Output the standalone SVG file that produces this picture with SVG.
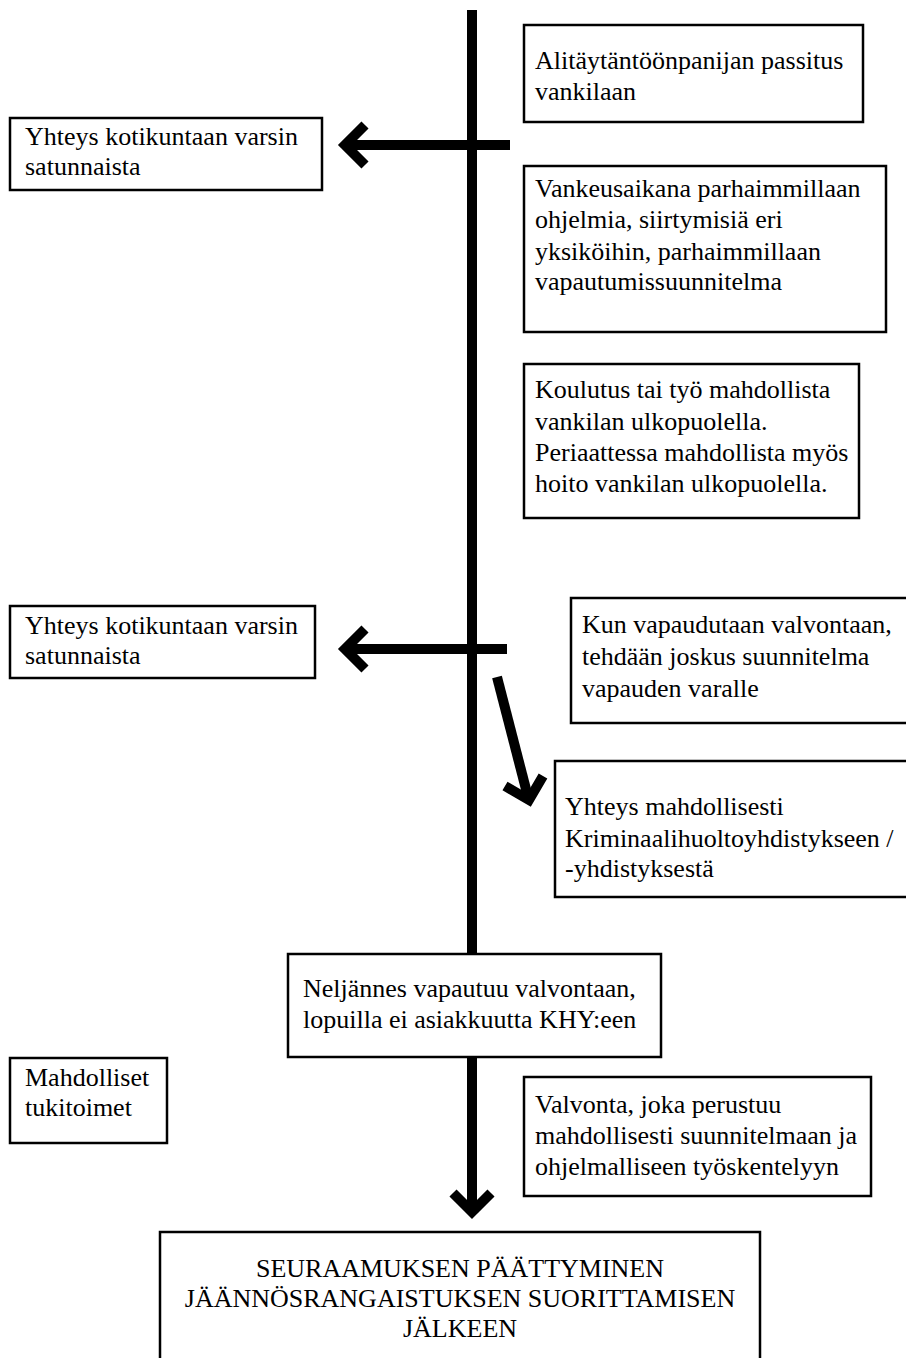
<svg xmlns="http://www.w3.org/2000/svg" width="906" height="1358" viewBox="0 0 906 1358">
<style>
.box{fill:#fff;stroke:#000;stroke-width:2.5}
.t{font-size:26px;fill:#000}
.c{text-anchor:middle}
.ln{fill:none;stroke:#000;stroke-width:10;stroke-linecap:butt}
.hd{fill:none;stroke:#000;stroke-width:10;stroke-linejoin:miter;stroke-miterlimit:10;stroke-linecap:butt}
</style>
<g id="connectors">
<line class="ln" x1="472" y1="10" x2="472" y2="1212"/>
<polyline class="hd" points="453,1193 472,1212 491,1193"/>
<line class="ln" x1="510" y1="145" x2="345" y2="145"/>
<polyline class="hd" points="365,125 345,145 365,165"/>
<line class="ln" x1="507" y1="649" x2="345" y2="649"/>
<polyline class="hd" points="365,629 345,649 365,669"/>
<line class="ln" x1="497" y1="677" x2="528" y2="797"/>
<polyline class="hd" points="543,776 529,800 505,786"/>
</g>
<g font-family="'Liberation Serif', Tinos, 'Times New Roman', 'DejaVu Serif', serif">
<g id="n1"><rect class="box" x="524" y="25" width="339" height="97"/>
<text class="t" x="535" y="69">Alitäytäntöönpanijan passitus</text>
<text class="t" x="535" y="100">vankilaan</text></g>
<g id="n2"><rect class="box" x="10" y="118" width="312" height="72"/>
<text class="t" x="25" y="145">Yhteys kotikuntaan varsin</text>
<text class="t" x="25" y="175">satunnaista</text></g>
<g id="n3"><rect class="box" x="524" y="166" width="362" height="166"/>
<text class="t" x="535" y="197">Vankeusaikana parhaimmillaan</text>
<text class="t" x="535" y="228">ohjelmia, siirtymisiä eri</text>
<text class="t" x="535" y="260">yksiköihin, parhaimmillaan</text>
<text class="t" x="535" y="290">vapautumissuunnitelma</text></g>
<g id="n4"><rect class="box" x="524" y="364" width="335" height="154"/>
<text class="t" x="535" y="398">Koulutus tai työ mahdollista</text>
<text class="t" x="535" y="430">vankilan ulkopuolella.</text>
<text class="t" x="535" y="461">Periaattessa mahdollista myös</text>
<text class="t" x="535" y="492">hoito vankilan ulkopuolella.</text></g>
<g id="n5"><rect class="box" x="571" y="598" width="345" height="125"/>
<text class="t" x="582" y="633">Kun vapaudutaan valvontaan,</text>
<text class="t" x="582" y="665">tehdään joskus suunnitelma</text>
<text class="t" x="582" y="697">vapauden varalle</text></g>
<g id="n6"><rect class="box" x="10" y="606" width="305" height="72"/>
<text class="t" x="25" y="634">Yhteys kotikuntaan varsin</text>
<text class="t" x="25" y="664">satunnaista</text></g>
<g id="n7"><rect class="box" x="555" y="761" width="360" height="136"/>
<text class="t" x="565" y="815">Yhteys mahdollisesti</text>
<text class="t" x="565" y="847">Kriminaalihuoltoyhdistykseen /</text>
<text class="t" x="565" y="877">-yhdistyksestä</text></g>
<g id="n8"><rect class="box" x="288" y="954" width="373" height="103"/>
<text class="t" x="303" y="997">Neljännes vapautuu valvontaan,</text>
<text class="t" x="303" y="1028">lopuilla ei asiakkuutta KHY:een</text></g>
<g id="n9"><rect class="box" x="10" y="1058" width="157" height="85"/>
<text class="t" x="25" y="1086">Mahdolliset</text>
<text class="t" x="25" y="1116">tukitoimet</text></g>
<g id="n10"><rect class="box" x="524" y="1077" width="347" height="119"/>
<text class="t" x="535" y="1113">Valvonta, joka perustuu</text>
<text class="t" x="535" y="1144">mahdollisesti suunnitelmaan ja</text>
<text class="t" x="535" y="1175">ohjelmalliseen työskentelyyn</text></g>
<g id="n11"><rect class="box" x="160" y="1232" width="600" height="140"/>
<text class="t c" x="460" y="1277">SEURAAMUKSEN PÄÄTTYMINEN</text>
<text class="t c" x="460" y="1307">JÄÄNNÖSRANGAISTUKSEN SUORITTAMISEN</text>
<text class="t c" x="460" y="1337">JÄLKEEN</text></g>
</g>
</svg>
